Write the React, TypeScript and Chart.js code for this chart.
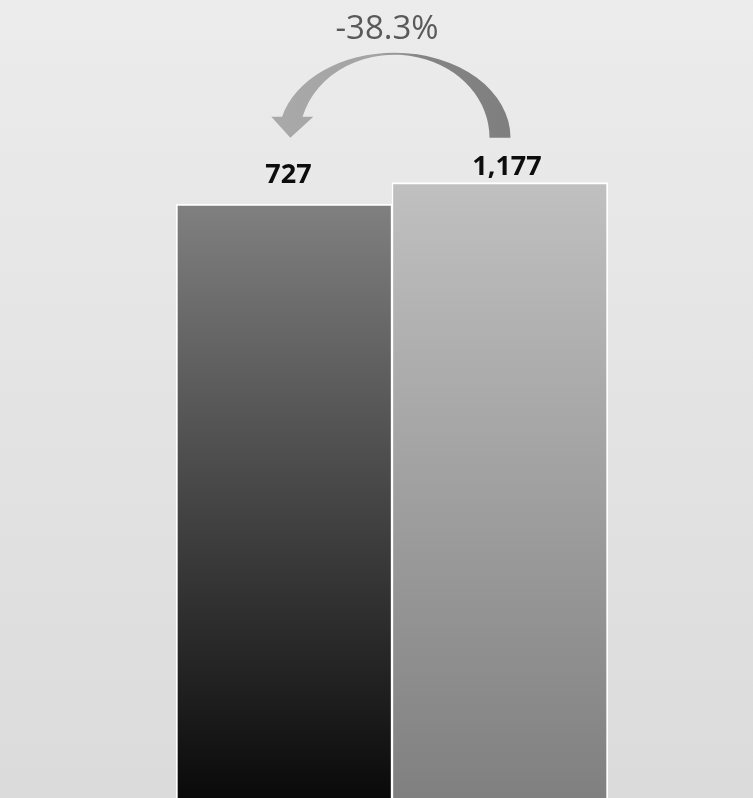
import React, { useEffect, useRef } from "react";
import { Chart, registerables } from "chart.js";

Chart.register(...registerables);

// Two periods compared side by side
const categories = ["Current", "Previous"];
const values = [727, 1177];
const changeLabel = "-38.3%";

// Value axis range (the bars rise from the axis minimum)
const axisMin = -11700;
const axisMax = 5000;

const W = 753;
const H = 798;

const topColors = ["#808080", "#c0c0c0"];
const bottomColors = ["#0a0a0a", "#808080"];

const fmt = (v: number) => v.toLocaleString("en-US");

const backgroundPlugin = {
  id: "pageBackground",
  beforeDraw(chart: any) {
    const { ctx, width, height } = chart;
    ctx.save();
    const g = ctx.createLinearGradient(0, 0, 0, height);
    g.addColorStop(0, "#ececec");
    g.addColorStop(1, "#dbdbdb");
    ctx.fillStyle = g;
    ctx.fillRect(0, 0, width, height);
    ctx.restore();
  },
};

const annotationsPlugin = {
  id: "barAnnotations",
  afterDatasetsDraw(chart: any) {
    const { ctx } = chart;
    const meta = chart.getDatasetMeta(0);
    const bars = meta.data;
    if (!bars || bars.length < 2) return;

    // value labels above each bar
    const dx = [4.5, 7];
    const dy = [21, 8];
    ctx.save();
    ctx.font = "bold 27px 'Open Sans'";
    ctx.fillStyle = "#0d0d0d";
    ctx.textAlign = "center";
    ctx.textBaseline = "alphabetic";
    bars.forEach((bar: any, i: number) => {
      ctx.fillText(fmt(values[i]), bar.x + dx[i], bar.y - dy[i]);
    });
    ctx.restore();

    // curved arrow from the previous bar to the current bar
    const xL = bars[0].x;
    const xR = bars[1].x;
    const cx = (xL + xR) / 2 + 2.5;
    const cy = bars[1].y - 45;
    const rOut = xR + 10.5 - cx;
    const rIn = xR - 10.5 - cx;
    const ryOut = 85;
    const ryIn = 83;
    const headY = cy - 21;
    const thOut = -(Math.PI - Math.asin((cy - headY) / ryOut));
    const thIn = -(Math.PI - Math.asin((cy - headY) / ryIn));
    const outerX = cx + rOut * Math.cos(thOut);
    const innerX = cx + rIn * Math.cos(thIn);
    const shaftMid = (outerX + innerX) / 2;

    ctx.save();
    const g = ctx.createLinearGradient(cx - rOut, 0, cx + rOut, 0);
    g.addColorStop(0, "#a9a9a9");
    g.addColorStop(0.42, "#a3a3a3");
    g.addColorStop(0.6, "#858585");
    g.addColorStop(1, "#7f7f7f");
    ctx.fillStyle = g;
    ctx.beginPath();
    ctx.moveTo(cx + rOut, cy);
    ctx.ellipse(cx, cy, rOut, ryOut, 0, 0, thOut, true);
    ctx.lineTo(shaftMid - 21, headY);
    ctx.lineTo(shaftMid - 2, cy);
    ctx.lineTo(shaftMid + 21, headY);
    ctx.lineTo(innerX, headY);
    ctx.ellipse(cx, cy, rIn, ryIn, 0, thIn, 0, false);
    ctx.closePath();
    ctx.fill();
    ctx.restore();

    // percentage change above the arrow
    ctx.save();
    ctx.font = "33px 'Open Sans'";
    ctx.fillStyle = "#595959";
    ctx.textAlign = "center";
    ctx.textBaseline = "alphabetic";
    ctx.fillText(changeLabel, cx - 7.5, cy - 98.5);
    ctx.restore();
  },
};

export default function App() {
  const canvasRef = useRef<HTMLCanvasElement | null>(null);

  useEffect(() => {
    const canvas = canvasRef.current;
    if (!canvas) return;

    const barFill = (context: any) => {
      const chart = context.chart;
      const area = chart.chartArea;
      const i = context.dataIndex;
      if (!area || i === undefined) return topColors[i ?? 0];
      const top = chart.scales.y.getPixelForValue(values[i]);
      const g = chart.ctx.createLinearGradient(0, top, 0, area.bottom);
      g.addColorStop(0, topColors[i]);
      g.addColorStop(1, bottomColors[i]);
      return g;
    };

    const chart = new Chart(canvas, {
      type: "bar",
      data: {
        labels: categories,
        datasets: [
          {
            data: values,
            base: axisMin,
            backgroundColor: barFill,
            borderColor: "#ffffff",
            borderWidth: [
              { top: 2, left: 2, right: 1.5, bottom: 0 },
              { top: 2, left: 1.5, right: 2, bottom: 0 },
            ] as any,
            borderSkipped: "start",
            barPercentage: 1,
            categoryPercentage: 1,
          } as any,
        ],
      },
      options: {
        animation: false,
        responsive: false,
        layout: { padding: { left: 176, right: 145, top: 0, bottom: 0 } },
        plugins: {
          legend: { display: false },
          tooltip: { enabled: false },
        },
        scales: {
          x: { display: false, offset: true, grid: { display: false } },
          y: { display: false, min: axisMin, max: axisMax },
        },
      },
      plugins: [backgroundPlugin, annotationsPlugin],
    });

    return () => chart.destroy();
  }, []);

  return (
    <div style={{ position: "fixed", left: 0, top: 0, width: W, height: H }}>
      <canvas ref={canvasRef} width={W} height={H} style={{ display: "block" }} />
    </div>
  );
}
